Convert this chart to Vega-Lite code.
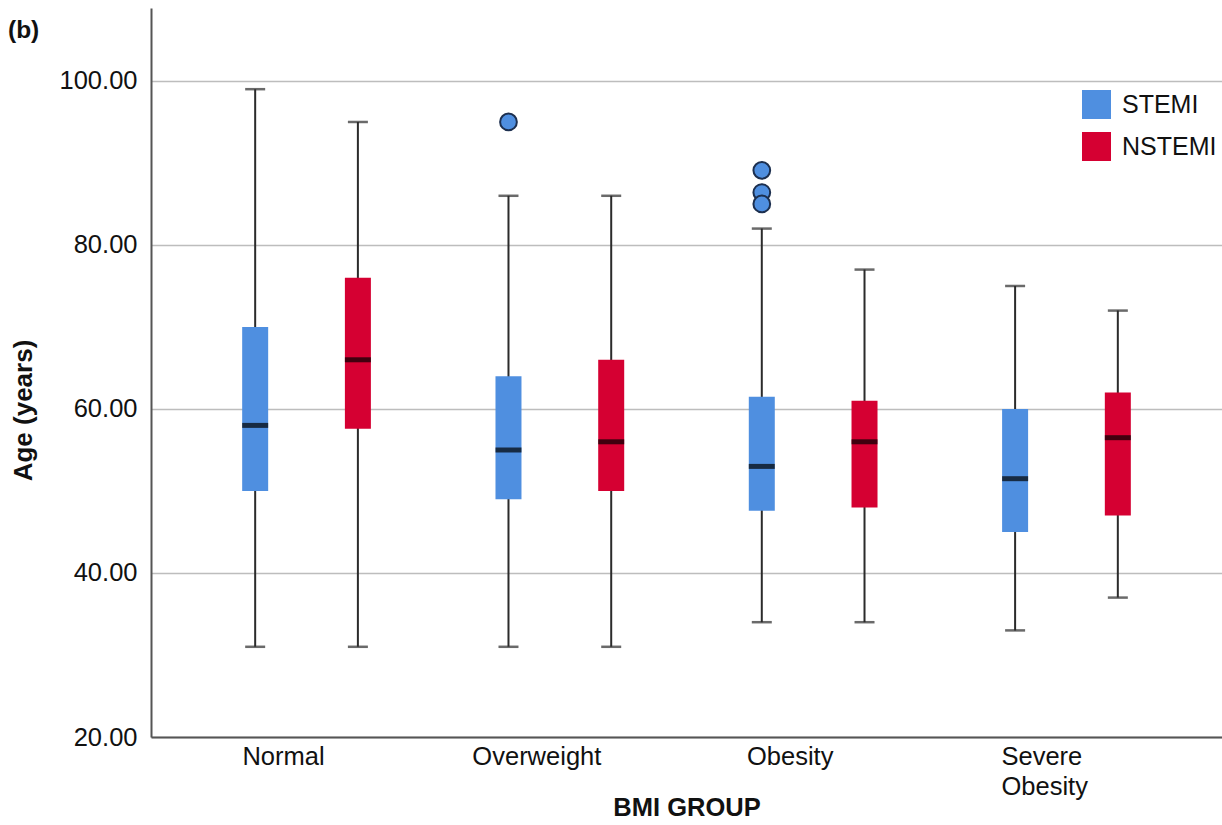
{
  "$schema": "https://vega.github.io/schema/vega-lite/v6.json",
  "width": 1071,
  "height": 729,
  "autosize": {"type": "none"},
  "padding": {"left": 151, "top": 8, "right": 0, "bottom": 88},
  "background": "white",
  "title": {"text": "(b)", "anchor": "start", "frame": "bounds", "orient": "top", "offset": 0, "dy": 35, "dx": -2, "fontSize": 24.5, "fontWeight": "bold", "font": "Liberation Sans", "color": "#111"},
  "config": {
    "view": {"stroke": null},
    "font": "Liberation Sans",
    "axis": {"labelFont": "Liberation Sans", "titleFont": "Liberation Sans", "labelColor": "#111", "titleColor": "#111"}
  },
  "datasets": {
    "stats": [
      {"group": "Normal", "type": "STEMI", "lo": 31, "q1": 50, "med": 58, "q3": 70, "hi": 99},
      {"group": "Normal", "type": "NSTEMI", "lo": 31, "q1": 57.6, "med": 66, "q3": 76, "hi": 95},
      {"group": "Overweight", "type": "STEMI", "lo": 31, "q1": 49, "med": 55, "q3": 64, "hi": 86},
      {"group": "Overweight", "type": "NSTEMI", "lo": 31, "q1": 50, "med": 56, "q3": 66, "hi": 86},
      {"group": "Obesity", "type": "STEMI", "lo": 34, "q1": 47.6, "med": 53, "q3": 61.5, "hi": 82},
      {"group": "Obesity", "type": "NSTEMI", "lo": 34, "q1": 48, "med": 56, "q3": 61, "hi": 77},
      {"group": "Severe Obesity", "type": "STEMI", "lo": 33, "q1": 45, "med": 51.5, "q3": 60, "hi": 75},
      {"group": "Severe Obesity", "type": "NSTEMI", "lo": 37, "q1": 47, "med": 56.5, "q3": 62, "hi": 72}
    ],
    "outliers": [
      {"group": "Overweight", "type": "STEMI", "age": 95},
      {"group": "Obesity", "type": "STEMI", "age": 89.1},
      {"group": "Obesity", "type": "STEMI", "age": 86.4},
      {"group": "Obesity", "type": "STEMI", "age": 85}
    ]
  },
  "data": {"name": "stats"},
  "encoding": {
    "x": {
      "field": "group", "type": "nominal",
      "sort": ["Normal", "Overweight", "Obesity", "Severe Obesity"],
      "scale": {"domain": ["Normal", "Overweight", "Obesity", "Severe Obesity"], "paddingInner": 0, "paddingOuter": 0.114},
      "axis": {
        "title": "BMI GROUP", "titleFontSize": 25.5, "titleFontWeight": "bold", "titleY": 58, "titleBaseline": "top",
        "labelAngle": 0, "labelFontSize": 25.5, "labelPadding": 7, "ticks": false,
        "labelAlign": {"condition": {"test": "datum.value == 'Severe Obesity'", "value": "left"}, "value": "center"},
        "labelOffset": {"condition": {"test": "datum.value == 'Severe Obesity'", "value": -65}, "value": -23},
        "labelExpr": "split(datum.label, ' ')", "labelLineHeight": 30,
        "domainColor": "#555", "domainWidth": 2, "grid": false
      }
    },
    "xOffset": {
      "field": "type", "type": "nominal",
      "scale": {"domain": ["STEMI", "NSTEMI"], "paddingInner": 0.72, "paddingOuter": 0.593}
    }
  },
  "layer": [
    {
      "mark": {"type": "rule", "color": "#2b2b2b", "strokeWidth": 2},
      "encoding": {
        "y": {
          "field": "lo", "type": "quantitative",
          "scale": {"domain": [20, 108.9], "nice": false, "zero": false},
          "axis": {
            "title": "Age (years)", "titleFontSize": 26, "titleFontWeight": "bold", "titleX": -128, "titleY": 402, "titleBaseline": "middle", "titleAngle": -90,
            "values": [20, 40, 60, 80, 100], "format": ".2f", "labelFontSize": 25.5, "labelPadding": 14, "ticks": false,
            "domainColor": "#555", "domainWidth": 2,
            "grid": true, "gridColor": "#bdbdbd", "gridWidth": 1.5
          }
        },
        "y2": {"field": "hi"}
      }
    },
    {
      "mark": {"type": "tick", "color": "#2b2b2b", "size": 20, "thickness": 2.5},
      "encoding": {"y": {"field": "hi", "type": "quantitative"}}
    },
    {
      "mark": {"type": "tick", "color": "#2b2b2b", "size": 20, "thickness": 2.5},
      "encoding": {"y": {"field": "lo", "type": "quantitative"}}
    },
    {
      "mark": {"type": "bar", "size": 26},
      "encoding": {
        "y": {"field": "q1", "type": "quantitative"},
        "y2": {"field": "q3"},
        "color": {
          "field": "type", "type": "nominal",
          "scale": {"domain": ["STEMI", "NSTEMI"], "range": ["#4f8fe0", "#d50032"]},
          "legend": {
            "title": null, "orient": "none", "legendX": 931, "legendY": 82,
            "symbolType": "square", "symbolSize": 841, "symbolStrokeWidth": 0,
            "labelFontSize": 25, "labelOffset": 11, "rowPadding": 13, "padding": 0, "labelColor": "#111", "labelFont": "Liberation Sans"
          }
        }
      }
    },
    {
      "mark": {"type": "tick", "color": "#000", "size": 26, "thickness": 5},
      "encoding": {"y": {"field": "med", "type": "quantitative"}}
    },
    {
      "data": {"name": "outliers"},
      "mark": {"type": "point", "shape": "circle", "filled": true, "fill": "#4f8fe0", "stroke": "#1c2f4f", "strokeWidth": 2, "size": 280, "opacity": 1},
      "encoding": {"y": {"field": "age", "type": "quantitative"}}
    }
  ]
}
